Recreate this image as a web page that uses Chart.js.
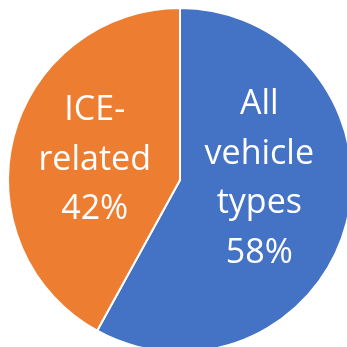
<!DOCTYPE html>
<html>
<head>
<meta charset="utf-8">
<script src="https://cdn.jsdelivr.net/npm/chart.js@4/dist/chart.umd.min.js"></script>
<style>
  html, body { margin: 0; padding: 0; background: #fff; overflow: hidden; }
  #wrap { position: absolute; left: 0; top: 0; width: 360px; height: 360px; }
</style>
</head>
<body>
<div id="wrap"><canvas id="chart"></canvas></div>
<script>
// slice data (clockwise from 12 o'clock)
var categories = ["All vehicle types", "ICE-related"];
var shares = [58, 42];
var labelLines = [["All", "vehicle", "types"], ["ICE-", "related"]];
var colors = ["#4472C4", "#ED7D31"];

// draws the in-slice text labels like the Office data labels
var sliceLabels = {
  id: "sliceLabels",
  afterDatasetsDraw: function (chart) {
    var ctx = chart.ctx;
    var meta = chart.getDatasetMeta(0);
    var nudgeX = [-4, -2];
    var nudgeY = [-13, 11];
    var lineH = 49.5;
    ctx.save();
    ctx.fillStyle = "#fff";
    ctx.font = "34px 'Open Sans', sans-serif";
    ctx.textAlign = "center";
    ctx.textBaseline = "alphabetic";
    meta.data.forEach(function (arc, i) {
      var p = arc.tooltipPosition();
      var lines = labelLines[i].concat([shares[i] + "%"]);
      var y0 = p.y + nudgeY[i] - (lines.length - 1) * lineH / 2;
      for (var k = 0; k < lines.length; k++) {
        ctx.fillText(lines[k], p.x + nudgeX[i], y0 + k * lineH);
      }
    });
    ctx.restore();
  }
};

new Chart(document.getElementById("chart").getContext("2d"), {
  type: "pie",
  data: {
    labels: categories,
    datasets: [{
      data: shares,
      backgroundColor: colors,
      borderColor: "#fff",
      borderWidth: 2
    }]
  },
  options: {
    responsive: true,
    maintainAspectRatio: false,
    animation: false,
    layout: { padding: 7 },
    plugins: { legend: { display: false }, tooltip: { enabled: false } }
  },
  plugins: [sliceLabels]
});
</script>
</body>
</html>
